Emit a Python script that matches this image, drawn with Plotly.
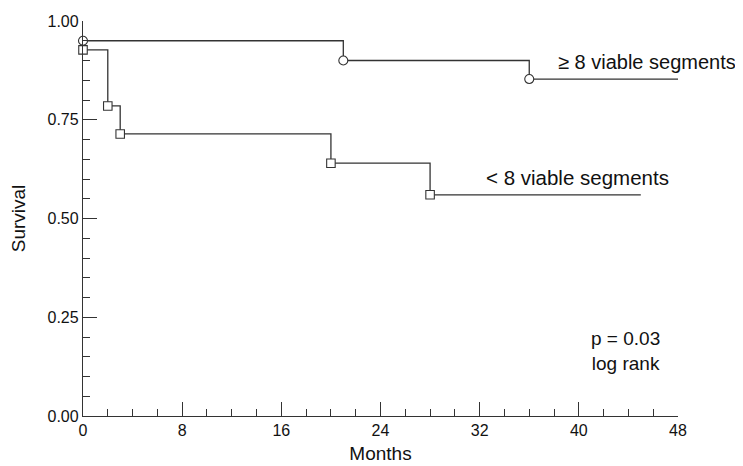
import plotly.graph_objects as go

# Data
months_hi = [0, 21, 36, 48]
surv_hi = [0.95, 0.90, 0.853, 0.853]
months_lo = [0, 2, 3, 20, 28, 45]
surv_lo = [0.927, 0.785, 0.714, 0.64, 0.56, 0.56]
label_hi = "≥ 8 viable segments"
label_lo = "< 8 viable segments"
x_ticks = [0, 8, 16, 24, 32, 40, 48]
y_ticks = [0, 0.25, 0.5, 0.75, 1.0]

line_col = "#333333"
font = "Liberation Sans, Arial, Helvetica, sans-serif"

fig = go.Figure()
fig.add_trace(go.Scatter(x=months_hi, y=surv_hi, mode="lines", line_shape="hv",
                         line=dict(color=line_col, width=1.3), cliponaxis=False, hoverinfo="skip"))
fig.add_trace(go.Scatter(x=months_lo, y=surv_lo, mode="lines", line_shape="hv",
                         line=dict(color=line_col, width=1.3), cliponaxis=False, hoverinfo="skip"))
fig.add_trace(go.Scatter(x=months_hi[:-1], y=surv_hi[:-1], mode="markers", cliponaxis=False,
                         marker=dict(symbol="circle", size=9, color="white",
                                     line=dict(color=line_col, width=1.1))))
fig.add_trace(go.Scatter(x=months_lo[:-1], y=surv_lo[:-1], mode="markers", cliponaxis=False,
                         marker=dict(symbol="square", size=8.5, color="white",
                                     line=dict(color=line_col, width=1.1))))

fig.add_annotation(xref="paper", x=1.10, y=0.896, text=label_hi, showarrow=False,
                   xanchor="right", yanchor="middle", font=dict(size=20, color="#111"))
fig.add_annotation(x=39.9, y=0.603, text=label_lo, showarrow=False, xanchor="center",
                   yanchor="middle", font=dict(size=20.5, color="#111"))
fig.add_annotation(x=43.8, y=0.165, text="p = 0.03<br>log rank", showarrow=False,
                   xanchor="center", yanchor="middle", align="center",
                   font=dict(size=19, color="#111"))

fig.update_layout(
    width=735, height=458,
    margin=dict(l=75, r=65, t=13, b=50),
    plot_bgcolor="white", paper_bgcolor="white",
    showlegend=False,
    font=dict(family=font, size=16, color="#111"),
    xaxis=dict(range=[0, 48], tickvals=x_ticks, ticks="inside", ticklen=14,
               tickcolor=line_col, tickwidth=1.2, automargin=False,
               showline=True, linecolor=line_col, linewidth=1.3,
               showgrid=False, zeroline=False,
               minor=dict(ticks="inside", dtick=2, ticklen=7, tickcolor=line_col, tickwidth=1.1,
                          showgrid=False),
               title=dict(text="Months", font=dict(size=19), standoff=8)),
    yaxis=dict(range=[0, 1], tickvals=y_ticks, tickformat=".2f", ticks="inside", ticklen=14,
               tickcolor=line_col, tickwidth=1.2, automargin=False,
               showline=True, linecolor=line_col, linewidth=1.3,
               showgrid=False, zeroline=False,
               minor=dict(ticks="inside", dtick=0.05, ticklen=7, tickcolor=line_col, tickwidth=1.1,
                          showgrid=False),
               title=dict(text="Survival", font=dict(size=19), standoff=16)),
)

fig.write_html("out.html")
